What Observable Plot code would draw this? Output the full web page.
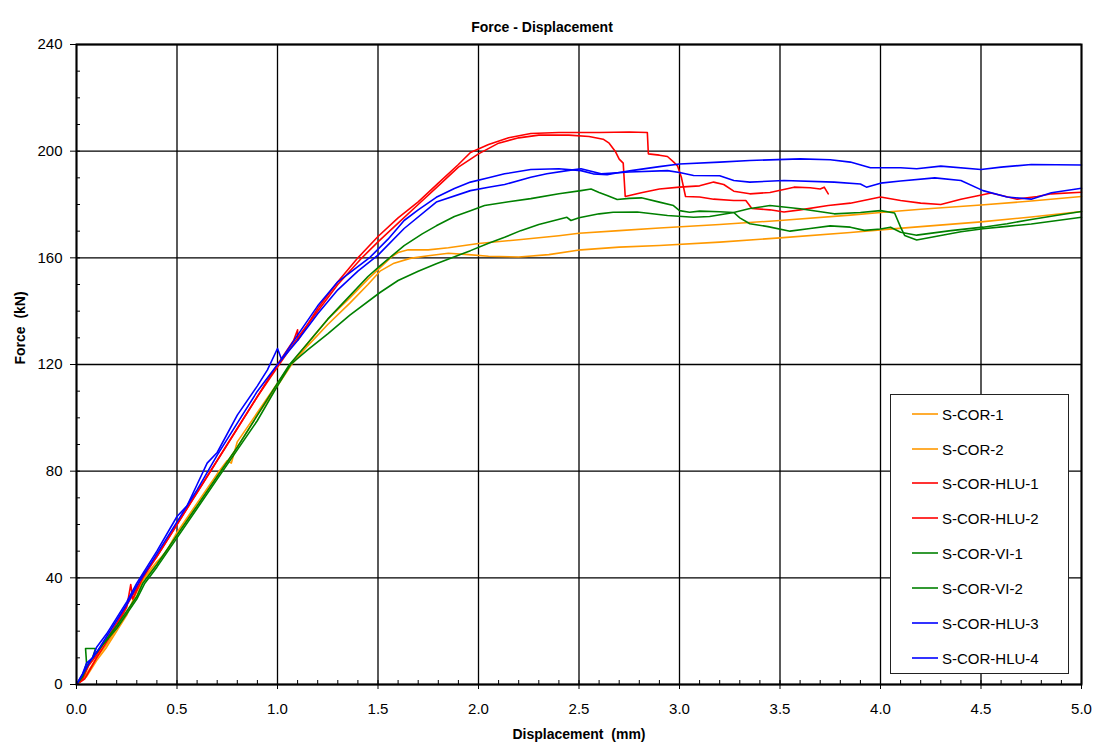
<!DOCTYPE html>
<html>
<head>
<meta charset="utf-8">
<script src="https://cdn.jsdelivr.net/npm/d3@7"></script>
<script src="https://cdn.jsdelivr.net/npm/@observablehq/plot@0.6"></script>
<style>
  body { margin: 0; background: #fff; }
  #wrap { position: relative; width: 1094px; height: 745px; font-family: "Liberation Sans", Arial, sans-serif; }
  #legend { position: absolute; left: 890px; top: 394px; width: 179px; height: 280px; box-sizing: border-box; border: 1px solid #222; background: #fff; }
  .row { position: absolute; left: 0; height: 20px; display: flex; align-items: center; font-size: 15px; color: #000; white-space: nowrap; }
  .row svg { margin-left: 21px; margin-right: 4px; display: block; }
</style>
</head>
<body>
<div id="wrap"></div>
<script>
// ---------- data (displacement mm, force kN) ----------
const titleText = "Force - Displacement";
const xLabel = "Displacement\u00a0\u00a0(mm)";
const yLabel = "Force\u00a0\u00a0(kN)";

const seriesNames = ["S-COR-1", "S-COR-2", "S-COR-HLU-1", "S-COR-HLU-2", "S-COR-VI-1", "S-COR-VI-2", "S-COR-HLU-3", "S-COR-HLU-4"];
const seriesColors = ["#ff9900", "#ff9900", "#ff0000", "#ff0000", "#008000", "#008000", "#0000ff", "#0000ff"];

const xTicks = [0, 0.5, 1, 1.5, 2, 2.5, 3, 3.5, 4, 4.5, 5];
const yTicks = [0, 40, 80, 120, 160, 200, 240];
const xMinorTicks = [0,0.1,0.2,0.3,0.4,0.5,0.6,0.7,0.8,0.9,1,1.1,1.2,1.3,1.4,1.5,1.6,1.7,1.8,1.9,2,2.1,2.2,2.3,2.4,2.5,2.6,2.7,2.8,2.9,3,3.1,3.2,3.3,3.4,3.5,3.6,3.7,3.8,3.9,4,4.1,4.2,4.3,4.4,4.5,4.6,4.7,4.8,4.9,5];
const yMinorTicks = [0,10,20,30,40,50,60,70,80,90,100,110,120,130,140,150,160,170,180,190,200,210,220,230,240];

const sCor1 = [[0,0],[0.05,4],[0.1,10],[0.15,15],[0.2,21],[0.25,27],[0.3,33],[0.335,40],[0.4,46],[0.45,50],[0.47,53],[0.5,57],[0.6,68],[0.7,79],[0.75,84],[0.77,83],[0.8,91],[0.9,102],[1.0,113],[1.065,120],[1.15,128],[1.25,137],[1.36,145],[1.45,152],[1.52,157],[1.57,160.5],[1.6,162],[1.65,163],[1.75,163],[1.85,163.8],[2.0,165.4],[2.2,166.8],[2.4,168.3],[2.5,169.2],[2.7,170.2],[2.9,171.2],[3.2,172.5],[3.5,174],[3.85,176],[4.0,177],[4.2,178.2],[4.5,179.8],[4.75,181.3],[5.0,183]];

const sCor2 = [[0,0],[0.05,3],[0.1,9],[0.15,14],[0.2,20],[0.25,26],[0.3,35],[0.34,40],[0.4,45],[0.5,56],[0.6,67],[0.7,78],[0.8,89],[0.9,101],[1.0,112],[1.07,120],[1.15,127],[1.25,135],[1.36,143],[1.45,150],[1.51,155],[1.58,158],[1.66,159.8],[1.75,160.8],[1.85,161.7],[1.95,161.2],[2.05,160.6],[2.2,160.3],[2.35,161.2],[2.51,163],[2.7,164],[2.9,164.6],[3.2,165.9],[3.5,167.5],[3.85,169.5],[4.0,170.5],[4.2,171.7],[4.5,173.5],[4.75,175.3],[5.0,177.4]];

const sCorHlu1 = [[0,0],[0.03,2],[0.06,7],[0.1,11],[0.15,17],[0.2,23],[0.26,31],[0.3,36],[0.32,40],[0.4,48],[0.5,60],[0.6,72],[0.7,84],[0.8,96],[0.9,108],[1.0,120],[1.08,129],[1.1,133],[1.1,129],[1.15,135],[1.2,141],[1.3,151],[1.4,160],[1.5,168],[1.6,175],[1.7,181],[1.8,188],[1.9,195],[1.96,199.5],[2.05,202.5],[2.15,205],[2.26,206.6],[2.4,207],[2.6,207],[2.75,207.2],[2.84,207],[2.845,199],[2.9,198.5],[2.94,198],[2.97,196],[2.99,194.5],[3.01,190],[3.03,183],[3.1,182.8],[3.17,182],[3.27,181.5],[3.33,181.5],[3.36,178.5],[3.45,178],[3.52,177.2],[3.6,178],[3.74,179.6],[3.85,180.5],[4.0,182.8],[4.1,181.5],[4.2,180.5],[4.3,180],[4.4,182],[4.55,184.3],[4.68,182],[4.78,183],[4.85,184],[5.0,184.6]];

const sCorHlu2 = [[0,0],[0.04,2],[0.07,6],[0.1,10],[0.15,16],[0.2,22],[0.25,29],[0.27,37.5],[0.28,32],[0.33,40],[0.4,48],[0.5,60],[0.6,72],[0.7,84],[0.8,96],[0.9,108],[1.0,119],[1.1,130],[1.2,140],[1.3,150],[1.42,160],[1.5,166],[1.6,173],[1.7,180],[1.8,187],[1.9,194],[2.0,199],[2.1,203],[2.2,205],[2.3,206],[2.45,206],[2.55,205.5],[2.62,204.5],[2.65,203],[2.68,200],[2.7,197],[2.72,195.5],[2.73,183],[2.81,184.4],[2.9,185.8],[3.0,186.5],[3.1,187],[3.17,188.4],[3.22,187.5],[3.27,185],[3.35,184],[3.45,184.5],[3.57,186.5],[3.65,186.3],[3.7,185.8],[3.72,186.5],[3.74,184]];

const sCorVi1 = [[0,0],[0.03,3],[0.06,8],[0.1,12],[0.15,17],[0.2,22],[0.3,33],[0.33,38],[0.4,45],[0.5,56],[0.6,67],[0.7,78],[0.8,89],[0.9,101],[1.0,113],[1.06,120],[1.15,128],[1.25,137],[1.35,145],[1.45,153],[1.51,157],[1.63,164.6],[1.72,169],[1.79,172],[1.88,175.5],[1.96,177.7],[2.03,179.6],[2.15,181],[2.26,182.2],[2.4,184],[2.51,185.2],[2.56,185.8],[2.6,184.5],[2.64,183.4],[2.69,181.9],[2.75,182.3],[2.81,182.5],[2.9,180.9],[2.97,179.6],[3.0,177.7],[3.05,177.1],[3.1,177.5],[3.2,177.3],[3.27,177],[3.3,175],[3.35,172.8],[3.44,171.7],[3.55,170],[3.65,171],[3.75,172],[3.85,171.5],[3.92,170.3],[4.0,170.8],[4.05,171.5],[4.1,169.6],[4.18,168.5],[4.35,170.2],[4.51,171.5],[4.63,172.8],[4.75,174.4],[4.88,176],[5.0,177.4]];

const sCorVi2 = [[0,0],[0.03,3],[0.05,8],[0.045,13.5],[0.095,13.5],[0.08,10],[0.12,14],[0.2,21],[0.3,32],[0.34,38],[0.4,44],[0.5,55],[0.6,66],[0.7,77],[0.8,88],[0.9,99],[1.0,112],[1.065,120],[1.15,125.5],[1.25,131.5],[1.36,138.5],[1.51,147],[1.6,151.5],[1.7,155],[1.79,157.8],[1.9,161],[1.96,162.7],[2.05,165.5],[2.13,167.7],[2.21,170.2],[2.3,172.5],[2.44,175.2],[2.46,174],[2.5,175],[2.6,176.5],[2.67,177.1],[2.79,177.2],[2.94,175.9],[3.07,175.2],[3.15,175.5],[3.27,177],[3.35,178.5],[3.45,179.6],[3.6,178.4],[3.77,176.5],[3.9,177],[4.0,177.7],[4.07,176.8],[4.1,171.5],[4.12,168.4],[4.18,166.7],[4.3,168.4],[4.4,169.8],[4.51,170.9],[4.63,171.8],[4.75,172.7],[4.88,174],[5.0,175.2]];

const sCorHlu3 = [[0,0],[0.03,4],[0.05,8],[0.08,10],[0.1,14],[0.15,19],[0.2,25],[0.25,31],[0.3,38],[0.35,44],[0.4,50],[0.5,63],[0.55,67],[0.6,75],[0.65,83],[0.7,87],[0.8,101],[0.9,112],[0.95,118],[1.0,126],[1.02,122],[1.1,131],[1.2,142],[1.3,151],[1.46,160.2],[1.55,167],[1.63,174],[1.7,178],[1.79,182.7],[1.88,186],[1.96,188.4],[2.05,190],[2.13,191.5],[2.26,193.1],[2.4,193.4],[2.51,192.7],[2.57,191.5],[2.64,191.2],[2.7,192],[2.76,192.7],[2.9,194.2],[3.0,195.2],[3.2,195.9],[3.35,196.5],[3.6,197.1],[3.75,196.8],[3.85,195.9],[3.95,193.8],[4.1,193.8],[4.18,193.4],[4.3,194.4],[4.5,193.1],[4.6,194],[4.75,195],[5.0,194.8]];

const sCorHlu4 = [[0,0],[0.04,5],[0.07,9],[0.1,12],[0.15,18],[0.2,24],[0.25,30],[0.3,37],[0.35,43],[0.4,49],[0.5,61],[0.6,73],[0.7,86],[0.8,98],[0.9,110],[1.0,120],[1.1,129],[1.2,139],[1.3,148],[1.4,155],[1.5,161],[1.63,171],[1.79,180.9],[1.96,185.2],[2.05,186.5],[2.13,187.5],[2.26,190.2],[2.34,191.5],[2.45,192.8],[2.51,193.4],[2.61,191.5],[2.75,192.2],[2.94,192.7],[3.0,192],[3.07,190.9],[3.2,190.8],[3.27,189],[3.35,188.4],[3.52,189],[3.77,188.4],[3.9,187.7],[3.93,186.5],[4.0,188],[4.1,188.8],[4.27,190],[4.4,189],[4.51,185.2],[4.63,182.8],[4.75,182],[4.85,184.4],[5.0,186.1]];

const seriesPoints = [sCor1, sCor2, sCorHlu1, sCorHlu2, sCorVi1, sCorVi2, sCorHlu3, sCorHlu4];

// ---------- build ----------
const rows = [];
seriesPoints.forEach((pts, i) => pts.forEach(([d, f]) => rows.push({series: seriesNames[i], d, f})));

const W = 1094, H = 745, mL = 76, mR = 13, mT = 44, mB = 61;
const plotW = W - mL - mR, plotH = H - mT - mB;

const chart = Plot.plot({
  width: W, height: H,
  marginLeft: mL, marginRight: mR, marginTop: mT, marginBottom: mB,
  style: {fontFamily: "'Liberation Sans', Arial, sans-serif", fontSize: "15px", color: "#000", background: "#fff", overflow: "visible"},
  x: {domain: [0, 5]},
  y: {domain: [0, 240]},
  color: {domain: seriesNames, range: seriesColors},
  marks: [
    Plot.gridX(xTicks, {stroke: "#000", strokeOpacity: 1, strokeWidth: 1.3}),
    Plot.gridY(yTicks, {stroke: "#000", strokeOpacity: 1, strokeWidth: 1.3}),
    Plot.tickX(xMinorTicks, {x: d => d, insetTop: plotH - 4, stroke: "#000", strokeWidth: 1}),
    Plot.tickY(yMinorTicks, {y: d => d, insetRight: plotW - 4, stroke: "#000", strokeWidth: 1}),
    Plot.line(rows, {x: "d", y: "f", z: "series", stroke: "series", strokeWidth: 1.6, strokeLinejoin: "round"}),
    Plot.frame({stroke: "#000", strokeWidth: 2}),
    Plot.axisX(xTicks, {tickSize: 5, tickPadding: 14, tickFormat: d3.format(".1f"), label: null, fontSize: 15}),
    Plot.axisY(yTicks, {tickSize: 6, tickPadding: 8, label: null, fontSize: 15}),
    Plot.text([titleText], {frameAnchor: "top", dx: -37, dy: -22, fontWeight: "bold", fontSize: 14, text: d => d}),
    Plot.text([xLabel], {frameAnchor: "bottom", dy: 54, fontWeight: "bold", fontSize: 14, text: d => d}),
    Plot.text([yLabel], {frameAnchor: "left", dx: -56, rotate: -90, fontWeight: "bold", fontSize: 14, text: d => d})
  ]
});

const wrap = document.getElementById("wrap");
wrap.appendChild(chart);

// legend
const NS = "http://www.w3.org/2000/svg";
const legend = document.createElement("div");
legend.id = "legend";
seriesNames.forEach((name, i) => {
  const row = document.createElement("div");
  row.className = "row";
  row.style.top = Math.round(18.7 + i * 34.85 - 10) + "px";
  const sw = document.createElementNS(NS, "svg");
  sw.setAttribute("width", 26);
  sw.setAttribute("height", 4);
  const ln = document.createElementNS(NS, "line");
  ln.setAttribute("x1", 0); ln.setAttribute("x2", 26);
  ln.setAttribute("y1", 2); ln.setAttribute("y2", 2);
  ln.setAttribute("stroke", seriesColors[i]);
  ln.setAttribute("stroke-width", 1.6);
  sw.appendChild(ln);
  const tx = document.createElement("span");
  tx.textContent = name;
  row.appendChild(sw);
  row.appendChild(tx);
  legend.appendChild(row);
});
wrap.appendChild(legend);
</script>
</body>
</html>
